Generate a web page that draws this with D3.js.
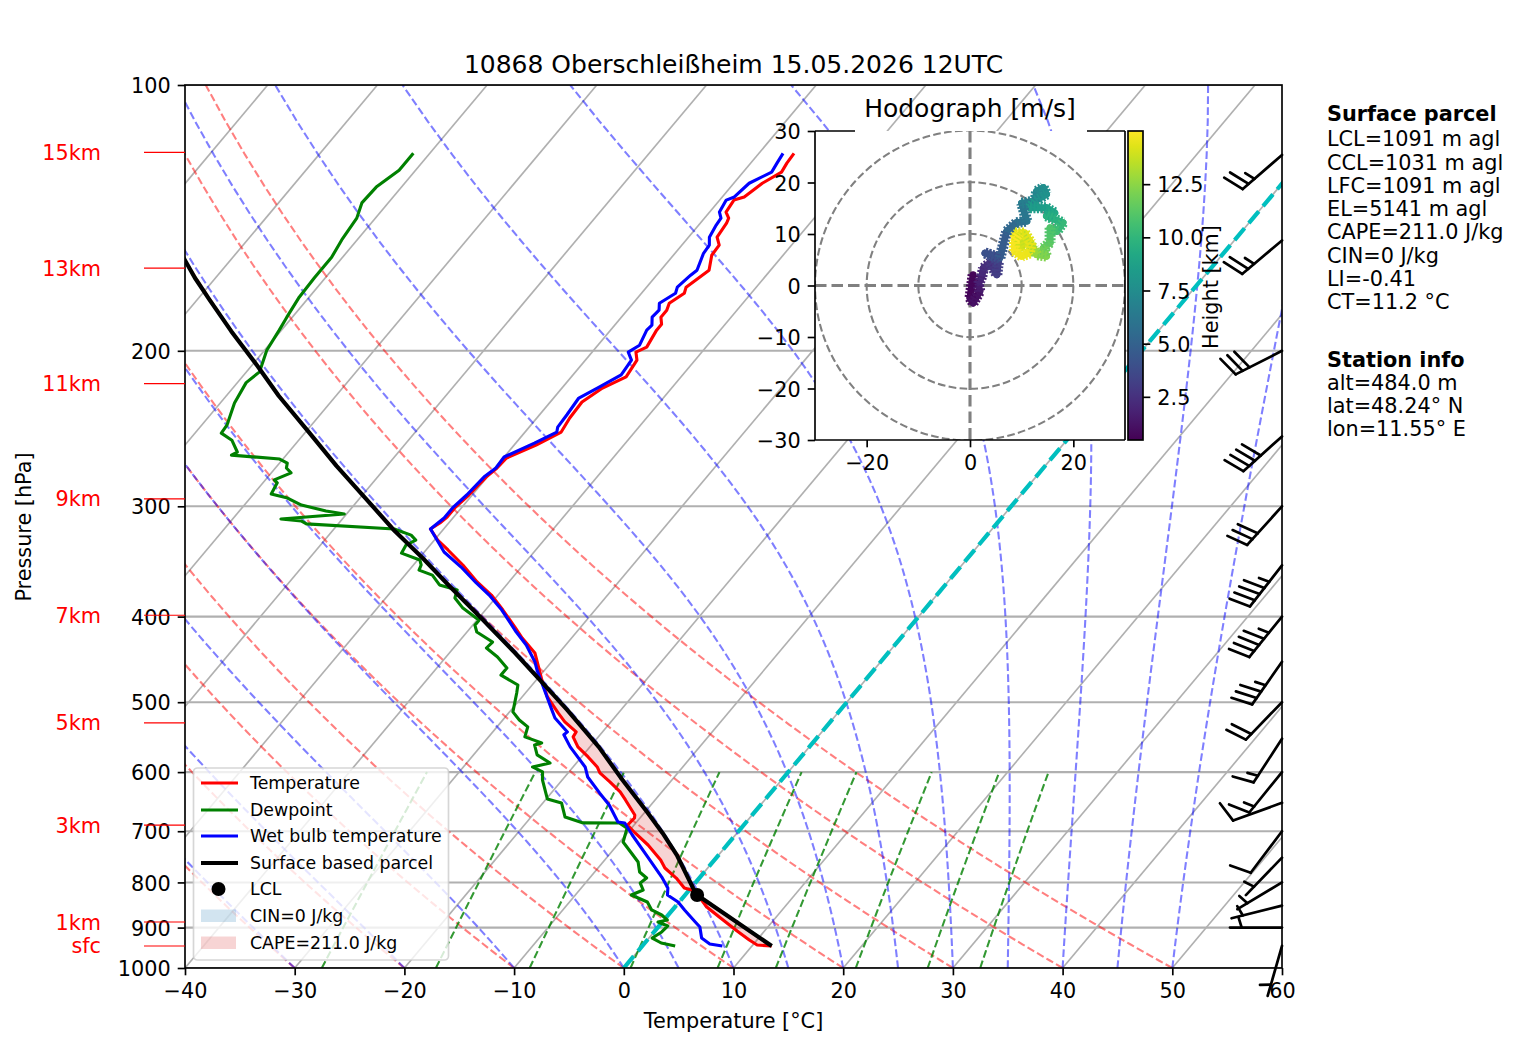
<!DOCTYPE html>
<html><head><meta charset="utf-8">
<script src="https://cdn.jsdelivr.net/npm/d3@7"></script>
<style>
html,body{margin:0;padding:0;background:#fff}
svg{display:block}
text{font-family:"DejaVu Sans",sans-serif;fill:#000}
</style></head><body>
<svg id="c" width="1517" height="1054" viewBox="0 0 1517 1054"></svg>
<script>
const tempP=[944.2,941.8,929.6,908.1,875.4,853,833.2,816,811.8,790.9,770.5,754.6,725.6,703.2,688.8,676.3,671,645.2,631.8,615.6,601.3,592,576.7,561.8,547.3,540.3,526.4,514.2,493.2,475.6,451.4,439.8,423,411.1,393.2,378.1,365.4,349.6,336.2,327.6,318.3,313.4,308.5,301.3,291.3,278,271.5,264.5,255.7,247.2,238.3,228.6,220.4,214.1,204.9,200.7,198.1,189.5,186.6,183.2,179.9,176.7,172.1,169.4,162.1,155.9,151.8,148.7,143.4,141.5,139.3,135,133.9,129.2,125.5,122.6,119.5];
const tempT=[11.8,10.4,9.3,7.5,4.8,2.9,1.6,0.2,-0.6,-2.1,-3.9,-4.9,-7.2,-9.3,-10.6,-10.5,-10.7,-12.7,-13.8,-15.5,-17.1,-17.8,-19.4,-21.1,-22.3,-22.4,-24.2,-25.5,-27.7,-29.2,-31.2,-32.2,-34.5,-36,-38.4,-40.6,-42.9,-45.5,-48,-49.7,-51.2,-50.8,-50.6,-50.6,-50.3,-50.1,-49.8,-49.7,-48,-46.7,-47,-47.1,-46.3,-45,-45.3,-46,-45.4,-45.8,-45.8,-46.4,-46.4,-46.7,-46.1,-46.4,-45.6,-46.5,-46.6,-47.4,-47.6,-47.8,-48.5,-48.7,-48,-47.4,-46.5,-46.7,-46.8];
const wetP=[944.2,939.3,924.8,898.6,887,859.6,841.9,826.7,811.8,788.8,748.7,706.9,685.2,683.4,653.7,633.5,607.7,592,561.8,544.4,540.3,521,510.2,484.3,459.8,450.3,430.7,416.4,393.2,378.1,366.4,351.5,338,318.3,309.3,301.3,291.3,278,271.5,263.8,254.4,247.2,244,236.3,226.2,220,213,204.9,200.7,197.1,189.5,187.1,183.2,179.9,176.7,172.1,169.4,164.2,162.1,155.1,151.8,148.7,144.1,141.5,139.3,135,133.9,129.2,125.5,122.6,119.5];
const wetT=[7.3,6,4.8,3.8,3,1.1,-0.1,-1.6,-2.1,-3.5,-6.3,-9.4,-11,-11.7,-13.8,-15.6,-17.9,-18.9,-21.8,-23.3,-23.2,-25.4,-26.3,-28.5,-30.7,-31.5,-33.6,-35.5,-38.5,-40.8,-42.9,-45.5,-48.2,-51.2,-50.8,-50.8,-50.5,-50.3,-49.9,-50,-48.3,-47.1,-47.4,-47.5,-47.7,-46.7,-45.6,-45.8,-46.7,-46.2,-46.7,-46.6,-47.2,-47.1,-47.6,-46.9,-47.2,-46.9,-46.7,-47.4,-47.5,-48.1,-48.4,-48.5,-49.1,-49.4,-48.9,-48.6,-47.4,-47.6,-47.8];
const dewP=[944.2,936.9,924.8,910.3,896.2,887,882.4,870.9,859.6,841.9,826.7,816,801.3,790.9,778.6,758.6,741,720,694.3,685.2,685,674.6,650.3,643.5,612.4,599.8,592,585.9,573.7,558.9,556,547.3,533.2,523.7,512.8,488.1,478.1,465.9,457.4,444.4,434.1,427.4,416.4,409,403.7,391.2,381,373.2,368.3,359,354.3,349.6,345.1,339,331.9,327.6,323.4,318.3,314.1,311.7,310.1,306.1,303.7,299,293.6,290.5,282.2,280,275,271.5,268,265.2,262.5,260.4,252.5,247.9,242.8,229.2,217.3,211.3,199.7,189.5,183.2,173.9,165.3,156.7,149.8,141.5,136,130.5,124.9,119.5];
const dewT=[3,1.5,0.3,0.7,0.8,-0.4,0.3,-0.6,-1.9,-2.9,-4.9,-4.2,-5,-4.8,-5.9,-6.8,-8.1,-9.7,-10.4,-11.5,-14.8,-16.9,-18.3,-19.9,-21.8,-22.4,-23.7,-22.4,-24.2,-25.2,-24.7,-26.7,-27.2,-28.5,-29.7,-30.8,-31.3,-33.6,-33.6,-35.3,-37,-36.9,-39.1,-39.8,-39.8,-42.2,-43.7,-44.1,-46.1,-47.5,-49.1,-49.3,-49.8,-52,-52.2,-51.7,-52.5,-54.5,-62.9,-63.6,-65.6,-60.2,-62.1,-64.8,-66.6,-68.4,-68.7,-69.2,-68.2,-69,-69.3,-70.3,-75,-74.7,-76.1,-77.6,-77.7,-78.7,-79.2,-78.8,-79.8,-80.2,-80.5,-80.9,-81,-81,-81.4,-81.7,-82.4,-82.3,-81.5,-81.5];
const parcelP=[944.2,826.7,811.8,744.9,703.2,665.9,612.4,561.8,510.2,473.2,439.8,400.6,370,343.3,320,292.7,270,246,225,208.6,190,175,165.3,157.1,150];
const parcelT=[11.8,1.1,0.2,-3.8,-6.8,-9.8,-14.5,-19.2,-24.9,-29.5,-34,-39.9,-45,-49.7,-54.3,-59.7,-64.6,-70,-75.2,-79.3,-84.5,-88.9,-91.9,-94.4,-96.8];
const lclP=826.7, lclT=1.1;

const pressureTicks=[1000,900,800,700,600,500,400,300,200,100];
const tempTicks=[-40,-30,-20,-10,0,10,20,30,40,50,60];
const isothermT=[-120,-110,-100,-90,-80,-70,-60,-50,-40,-30,-20,-10,0,10,20,30,40,50];
const dryT0=[-30,-20,-10,0,10,20,30,40,50];
const moistT0=[-40,-30,-20,-10,0,5,10,15,20,25,30,35,40,45,50];
const mixRatios=[0.0004,0.001,0.002,0.004,0.007,0.01,0.016,0.024,0.032];

const altLabels=["15km","13km","11km","9km","7km","5km","3km","1km","sfc"];
const altP=[119.2,161.2,217.9,294.3,398.6,527.8,688.8,887,944.2];

const barbP=[120,150,200,250,300,350,400,450,500,550,600,650,700,750,800,850,900,944];
const barbKt=[25,25,30,40,30,45,45,35,20,15,15,10,10,5,5,5,5,5];
const barbDir=[229,230,243,228,222,218,219,215,224,213,219,250,217,224,239,256,270,196];

const hodoU=[0.6,0,0.6,1.9,1.6,2.3,2.6,3.9,5.2,5.5,3.9,2.9,5.8,7.1,9,11,10,12.6,12.9,14.2,14.8,12.6,11.6,14.8,16.4,14.8,18,16.8,15.5,15.5,14.2,14.8,12.9,12.3,10.6,9.7,10,8.7,10.6,11.8,11.5,10,8.6,8.6,9.4];
const hodoV=[2.1,-2.4,-3.4,-1.1,0.2,1.8,3.4,4.4,2.1,4.7,6,6.3,5.4,10.5,12.2,12.5,16,16.4,18.3,19,17.7,16.4,15.1,15.1,14.1,13.5,12.2,10.5,11.2,8.3,7.3,5.7,6,7.3,8.6,10.2,7.3,10.2,10.2,8.3,6.3,5.7,6.7,8.9,10.1];
const hodoH=[0.5,0.8,1,1.3,1.6,2,2.3,2.6,2.9,3.3,3.6,3.9,4.3,5,5.6,6,6.4,6.8,7.2,7.5,7.8,8,8.3,8.7,9,9.4,10,10.4,10.8,11.2,11.6,12,12.5,13,13.3,13.6,13.8,14.2,14.3,14.4,14.5,14.6,14.7,14.9,15];
const hodoRings=[10,20,30];
const hodoXTicks=[-20,0,20];
const hodoYTicks=[-30,-20,-10,0,10,20,30];
const cbarTicks=[2.5,5,7.5,10,12.5];
const cbarRange=[0.47,15];

const infoParcel=["LCL=1091 m agl","CCL=1031 m agl","LFC=1091 m agl","EL=5141 m agl","CAPE=211.0 J/kg","CIN=0 J/kg","LI=-0.41","CT=11.2 °C"];
const infoStation=["alt=484.0 m","lat=48.24° N","lon=11.55° E"];
const legendLabels=["Temperature","Dewpoint","Wet bulb temperature","Surface based parcel","LCL","CIN=0 J/kg","CAPE=211.0 J/kg"];

const svg=d3.select("#c");
const W={l:185,r:1282,t:85,b:968};
const x=d3.scaleLinear().domain([-40,60]).range([W.l,W.r]);
const y=d3.scaleLog().domain([1000,100]).range([W.b,W.t]);
const skew=Math.tan(40*Math.PI/180);
const sx=(T,p)=>x(T)+skew*(W.b-y(p));
const line=d3.line().x(d=>sx(d[0],d[1])).y(d=>y(d[1]));
const zip=(T,P)=>T.map((t,i)=>[t,P[i]]);
const FS=20.8;

const defs=svg.append("defs");
defs.append("clipPath").attr("id","main").append("rect").attr("x",W.l).attr("y",W.t).attr("width",W.r-W.l).attr("height",W.b-W.t);

const plot=svg.append("g").attr("clip-path","url(#main)");

// pressure grid + isotherms
const GRID="#b0b0b0", GW=1.67;
plot.append("g").selectAll("line").data(pressureTicks).join("line")
  .attr("x1",W.l).attr("x2",W.r).attr("y1",d=>y(d)).attr("y2",d=>y(d)).attr("stroke",GRID).attr("stroke-width",2.1);
plot.append("g").selectAll("path").data(isothermT).join("path").attr("fill","none")
  .attr("d",t=>line([[t,1000],[t,100]])).attr("stroke",GRID).attr("stroke-width",GW);

// reference families
const pFine=d3.range(1000,99,-10);
const dry=(t0,p)=>(t0+273.15)*Math.pow(p/1000,0.2854)-273.15;
plot.append("g").selectAll("path").data(dryT0).join("path").attr("fill","none")
  .attr("d",t0=>line(pFine.map(p=>[dry(t0,p),p])))
  .attr("stroke","#ff0000").attr("stroke-opacity",0.5).attr("stroke-width",2.08).attr("stroke-dasharray","7.7,3.3");

function moistCurve(t0){
  const es=T=>6.112*Math.exp(17.67*(T-273.15)/(T-29.65));
  const slope=(T,p)=>{const e=es(T);const r=0.622*e/Math.max(p-e,1e-3);
    return (287.04*T+2.501e6*r)/(1005+2.501e6*2.501e6*r*0.622/(287.04*T*T));};
  let T=t0+273.15,out=[];
  for(let i=0;i<pFine.length;i++){
    const p=pFine[i];out.push([T-273.15,p]);
    if(i<pFine.length-1){const dl=Math.log(pFine[i+1]/p);
      const k1=slope(T,p),k2=slope(T+k1*dl,pFine[i+1]);T+=0.5*(k1+k2)*dl;}
  }
  return out;
}
plot.append("g").selectAll("path").data(moistT0).join("path").attr("fill","none")
  .attr("d",t0=>line(moistCurve(t0)))
  .attr("stroke","#0000ff").attr("stroke-opacity",0.5).attr("stroke-width",2.08).attr("stroke-dasharray","7.7,3.3");

const pMix=d3.range(1000,599,-20);
const dewOfMix=(w,p)=>{const e=w*p/(0.622+w),l=Math.log(e/6.112);return 243.5*l/(17.67-l);};
plot.append("g").selectAll("path").data(mixRatios).join("path").attr("fill","none")
  .attr("d",w=>line(pMix.map(p=>[dewOfMix(w,p),p])))
  .attr("stroke","#008000").attr("stroke-opacity",0.8).attr("stroke-width",2.08).attr("stroke-dasharray","7.7,3.3");

// 0 degree isotherm
plot.append("path").attr("fill","none").attr("d",line([[0,1000],[0,100]]))
  .attr("stroke","#00bfbf").attr("stroke-width",4.2).attr("stroke-dasharray","15.4,6.7");

// CAPE shade
const capeTop=473;
const capePoly=zip(parcelT,parcelP).filter(d=>d[1]>=capeTop).concat(zip(tempT,tempP).filter(d=>d[1]>=capeTop).reverse());
plot.append("path").attr("d",line(capePoly)+"Z").attr("fill","#d62728").attr("fill-opacity",0.2);

// profiles
const prof=(T,P,c,w)=>plot.append("path").attr("fill","none").attr("d",line(zip(T,P)))
  .attr("stroke",c).attr("stroke-width",w).attr("stroke-linejoin","round");
prof(tempT,tempP,"#ff0000",3.1);
prof(dewT,dewP,"#008000",3.1);
prof(wetT,wetP,"#0000ff",3.1);
prof(parcelT,parcelP,"#000",4.2);
plot.append("circle").attr("cx",sx(lclT,lclP)).attr("cy",y(lclP)).attr("r",7).attr("fill","#000");

// frame and axes
svg.append("rect").attr("x",W.l).attr("y",W.t).attr("width",W.r-W.l).attr("height",W.b-W.t).attr("fill","none").attr("stroke","#000").attr("stroke-width",1.67);
function styleAxis(g,size){g.select(".domain").remove();g.selectAll("line").attr("stroke","#000").attr("stroke-width",1.67);
  g.selectAll("text").attr("fill","#000").attr("transform","translate(0,1)").style("font-size",(size||FS)+"px").style("font-family",'"DejaVu Sans"');}
svg.append("g").attr("transform",`translate(0,${W.b})`)
  .call(d3.axisBottom(x).tickValues(tempTicks).tickSize(7.3).tickPadding(7).tickFormat(d3.format("d"))).call(styleAxis);
svg.append("g").attr("transform",`translate(${W.l},0)`)
  .call(d3.axisLeft(y).tickValues(pressureTicks).tickSize(7.3).tickPadding(7).tickFormat(d3.format("d"))).call(styleAxis);

svg.append("text").attr("x",733.5).attr("y",73).attr("text-anchor","middle").style("font-size","25px").text("10868 Oberschleißheim 15.05.2026 12UTC");
svg.append("text").attr("x",733.5).attr("y",1028).attr("text-anchor","middle").style("font-size",FS+"px").text("Temperature [°C]");
svg.append("text").attr("transform","translate(31,527) rotate(-90)").attr("text-anchor","middle").style("font-size",FS+"px").text("Pressure [hPa]");

// altitude marks
const alt=svg.append("g");
alt.selectAll("line").data(altP).join("line").attr("x1",144).attr("x2",W.l).attr("y1",d=>y(d)).attr("y2",d=>y(d)).attr("stroke","#ff0000").attr("stroke-width",1.2);
alt.selectAll("text").data(altLabels).join("text").attr("x",101).attr("y",(d,i)=>y(altP[i])+7.5).attr("text-anchor","end").style("font-size",FS+"px").style("fill","#ff0000").text(d=>d);

// wind barbs
const L=52;
const barbG=svg.append("g").attr("fill","none").attr("stroke","#000").attr("stroke-width",2.7).attr("stroke-linecap","round");
barbP.forEach((p,i)=>{
  const a=barbDir[i]*Math.PI/180,dx=Math.sin(a),dy=-Math.cos(a),nx=-dy,ny=dx,bx=W.r,by=y(p);
  const pt=(s,n)=>[bx+dx*s+nx*n,by+dy*s+ny*n];
  const seg=(A,B)=>barbG.append("path").attr("d",d3.line()([A,B]));
  seg(pt(0,0),pt(L,0));
  let s=L,kt=barbKt[i];
  const full=Math.floor(kt/10),half=(kt%10)>=5;
  if(full===0&&half)s-=1.5*0.15*L;
  for(let k=0;k<full;k++){seg(pt(s,0),pt(s+0.125*L,0.4*L));s-=0.15*L;}
  if(half)seg(pt(s,0),pt(s+0.0625*L,0.2*L));
});

// legend
const leg=svg.append("g");
leg.append("rect").attr("x",193.5).attr("y",768).attr("width",255).attr("height",192).attr("rx",4)
  .attr("fill","#fff").attr("fill-opacity",0.8).attr("stroke","#ccc").attr("stroke-opacity",0.8).attr("stroke-width",1.67);
const legY=[783,810,836,863,889,916,943];
const legKinds=[["line","#ff0000",3.1],["line","#008000",3.1],["line","#0000ff",3.1],["line","#000",4.2],["dot","#000"],["box","#1f77b4"],["box","#d62728"]];
legendLabels.forEach((t,i)=>{
  const k=legKinds[i],yy=legY[i];
  if(k[0]==="line")leg.append("line").attr("x1",201).attr("x2",238).attr("y1",yy).attr("y2",yy).attr("stroke",k[1]).attr("stroke-width",k[2]);
  if(k[0]==="dot")leg.append("circle").attr("cx",218.5).attr("cy",yy).attr("r",7).attr("fill",k[1]);
  if(k[0]==="box")leg.append("rect").attr("x",201).attr("y",yy-6.5).attr("width",35).attr("height",12.5).attr("fill",k[1]).attr("fill-opacity",0.2);
  leg.append("text").attr("x",250).attr("y",yy+6).style("font-size","17.36px").text(t);
});

// info text
const info=svg.append("g").style("font-size",FS+"px");
info.append("text").attr("x",1327).attr("y",121).style("font-weight","bold").text("Surface parcel");
const parcelY=[146,170,193,216,239,263,286,309];
infoParcel.forEach((t,i)=>info.append("text").attr("x",1327).attr("y",parcelY[i]).text(t));
info.append("text").attr("x",1327).attr("y",367).style("font-weight","bold").text("Station info");
const stationY=[390,413,436];
infoStation.forEach((t,i)=>info.append("text").attr("x",1327).attr("y",stationY[i]).text(t));

// hodograph inset
const H={l:815,r:1125,t:131,b:440};
const hx=d3.scaleLinear().domain([-30,30]).range([H.l,H.r]);
const hy=d3.scaleLinear().domain([-30,30]).range([H.b,H.t]);
defs.append("clipPath").attr("id","hod").append("rect").attr("x",H.l).attr("y",H.t).attr("width",H.r-H.l).attr("height",H.b-H.t);
const hod=svg.append("g");
hod.append("rect").attr("x",H.l).attr("y",H.t).attr("width",H.r-H.l).attr("height",H.b-H.t).attr("fill","#fff");
const hc=hod.append("g").attr("clip-path","url(#hod)");
hc.selectAll("circle").data(hodoRings).join("circle").attr("cx",hx(0)).attr("cy",hy(0)).attr("r",d=>hx(d)-hx(0))
  .attr("fill","none").attr("stroke","#808080").attr("stroke-width",2.08).attr("stroke-dasharray","7.7,3.3");
hc.append("line").attr("x1",hx(-30)).attr("x2",hx(30)).attr("y1",hy(0)).attr("y2",hy(0)).attr("stroke","#808080").attr("stroke-width",3.1).attr("stroke-dasharray","11.5,5");
hc.append("line").attr("x1",hx(0)).attr("x2",hx(0)).attr("y1",hy(30)).attr("y2",hy(-30)).attr("stroke","#808080").attr("stroke-width",3.1).attr("stroke-dasharray","11.5,5");
const hColor=d3.scaleSequential(d3.interpolateViridis).domain(cbarRange);
const segs=d3.pairs(d3.range(hodoU.length));
const drawHodo=(w,dash)=>hc.append("g").selectAll("line").data(segs).join("line")
  .attr("x1",d=>hx(hodoU[d[0]])).attr("y1",d=>hy(hodoV[d[0]])).attr("x2",d=>hx(hodoU[d[1]])).attr("y2",d=>hy(hodoV[d[1]]))
  .attr("stroke",d=>hColor((hodoH[d[0]]+hodoH[d[1]])/2)).attr("stroke-width",w).attr("stroke-dasharray",dash).attr("stroke-linecap",dash?"butt":"round");
drawHodo(7,null);
drawHodo(11,"2,1.5");
const sp=hod.append("g").attr("stroke","#000").attr("stroke-width",1.67);
sp.append("line").attr("x1",H.l).attr("x2",H.l).attr("y1",H.t).attr("y2",H.b);
sp.append("line").attr("x1",H.r).attr("x2",H.r).attr("y1",H.t).attr("y2",H.b);
sp.append("line").attr("x1",H.l).attr("x2",H.r).attr("y1",H.b).attr("y2",H.b);
sp.append("line").attr("x1",H.l).attr("x2",855).attr("y1",H.t).attr("y2",H.t);
sp.append("line").attr("x1",1087).attr("x2",H.r).attr("y1",H.t).attr("y2",H.t);
hod.append("g").attr("transform",`translate(0,${H.b})`)
  .call(d3.axisBottom(hx).tickValues(hodoXTicks).tickSize(7.3).tickPadding(7).tickFormat(d3.format("d"))).call(styleAxis);
hod.append("g").attr("transform",`translate(${H.l},0)`)
  .call(d3.axisLeft(hy).tickValues(hodoYTicks).tickSize(7.3).tickPadding(7).tickFormat(d3.format("d"))).call(styleAxis);
hod.append("text").attr("x",970).attr("y",117).attr("text-anchor","middle").style("font-size","25px").text("Hodograph [m/s]");

// colour bar
const C={l:1128,r:1143};
const cy=d3.scaleLinear().domain(cbarRange).range([H.b,H.t]);
const grad=defs.append("linearGradient").attr("id","vir").attr("x1",0).attr("x2",0).attr("y1",1).attr("y2",0);
d3.range(0,1.001,0.05).forEach(f=>grad.append("stop").attr("offset",f).attr("stop-color",d3.interpolateViridis(f)));
hod.append("rect").attr("x",C.l).attr("y",H.t).attr("width",C.r-C.l).attr("height",H.b-H.t).attr("fill","url(#vir)").attr("stroke","#000").attr("stroke-width",1.67);
hod.append("g").attr("transform",`translate(${C.r},0)`)
  .call(d3.axisRight(cy).tickValues(cbarTicks).tickSize(7.3).tickPadding(7).tickFormat(d3.format(".1f"))).call(styleAxis);
hod.append("text").attr("transform","translate(1217.5,287) rotate(-90)").attr("text-anchor","middle").style("font-size",FS+"px").text("Height [km]");
</script></body></html>
